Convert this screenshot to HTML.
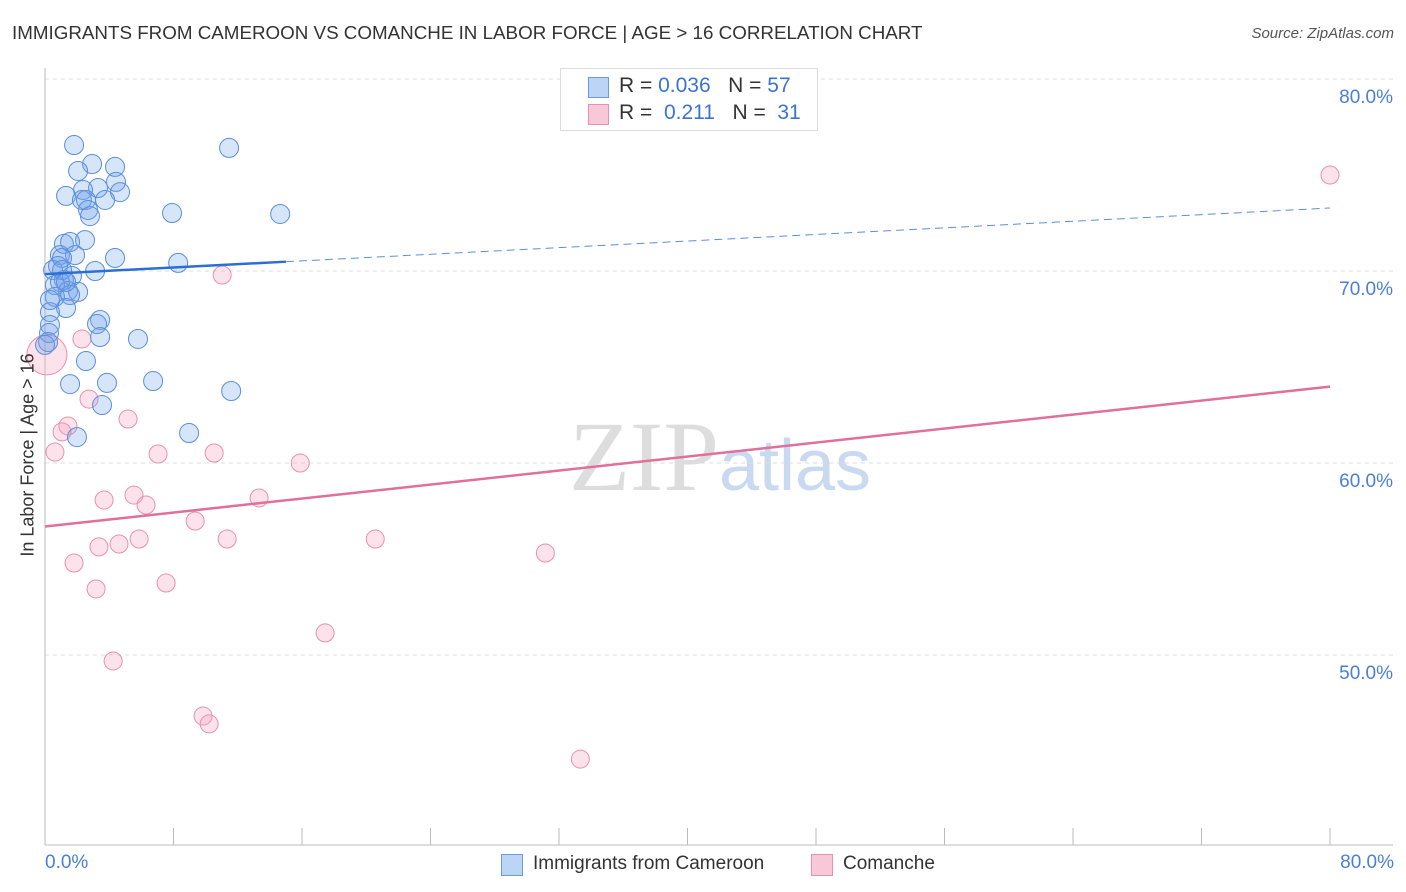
<!DOCTYPE html>
<html><head><meta charset="utf-8"><style>
body{margin:0;background:#fff;font-family:"Liberation Sans",sans-serif;}
#wrap{position:relative;width:1406px;height:892px;overflow:hidden;}
.t{position:absolute;white-space:nowrap;}
</style></head><body><div id="wrap">
<div class="t" style="left:12px;top:22px;font-size:18.8px;color:#333;">IMMIGRANTS FROM CAMEROON VS COMANCHE IN LABOR FORCE | AGE &gt; 16 CORRELATION CHART</div>
<div class="t" style="right:12px;top:25px;font-size:15px;color:#555;font-style:italic;">Source: ZipAtlas.com</div>
<svg id="svg" width="1406" height="892" style="position:absolute;left:0;top:0">
<text x="720" y="490" text-anchor="middle" font-size="100" font-family="Liberation Serif" fill="#ddd">ZIP<tspan fill="#c9d9f0" font-family="Liberation Sans" font-size="72">atlas</tspan></text>
</svg>
<div style="position:absolute;left:560px;top:68px;width:256px;height:61px;border:1px solid #ddd;background:#fff;">
<div style="position:absolute;left:27px;top:8px;width:19px;height:19px;background:#bcd4f6;border:1px solid #6a9be0;"></div>
<div class="t" style="left:58px;top:5px;font-size:21px;color:#333">R = <span style="color:#3a74d0">0.036</span> &nbsp;&nbsp;N = <span style="color:#3a74d0">57</span></div>
<div style="position:absolute;left:27px;top:35px;width:19px;height:19px;background:#f8c8d8;border:1px solid #e891ac;"></div>
<div class="t" style="left:58px;top:32px;font-size:21px;color:#333">R = &nbsp;<span style="color:#3a74d0">0.211</span> &nbsp;&nbsp;N = &nbsp;<span style="color:#3a74d0">31</span></div>
</div>
<div class="t" style="left:28px;top:455px;font-size:18px;color:#333;transform:translate(-50%,-50%) rotate(-90deg);">In Labor Force | Age &gt; 16</div>
<div class="t" style="left:45px;top:852px;font-size:19px;color:#4a7fd6;">0.0%</div>
<div class="t" style="right:12px;top:852px;font-size:19px;color:#4a7fd6;">80.0%</div>
<div style="position:absolute;left:501px;top:854px;width:20px;height:20px;background:#bcd4f6;border:1px solid #6a9be0;"></div>
<div class="t" style="left:533px;top:853px;font-size:19px;color:#333;">Immigrants from Cameroon</div>
<div style="position:absolute;left:811px;top:854px;width:20px;height:20px;background:#f8c8d8;border:1px solid #e891ac;"></div>
<div class="t" style="left:843px;top:853px;font-size:19px;color:#333;">Comanche</div>
</div>
<script>
const yTicks=[50,60,70,80];
const yTickLabels=["50.0%","60.0%","70.0%","80.0%"];
const blueX=[1.81,11.46,2.93,4.36,2.06,4.42,3.30,2.37,4.67,1.31,2.30,2.55,3.74,7.91,14.64,2.68,2.80,2.49,1.18,1.56,0.93,1.87,1.06,4.36,8.29,0.50,3.12,1.68,1.18,0.93,0.62,1.43,2.06,0.62,1.56,1.31,0.31,3.43,3.24,0.31,0.25,3.43,5.79,0.19,2.55,1.56,3.86,6.73,11.59,3.55,8.97,1.99,0.31,0,0.81,1.06,1.31];
const blueY=[76.56,76.41,75.57,75.42,75.21,74.64,74.32,74.22,74.11,73.91,73.70,73.70,73.70,73.02,72.97,73.18,72.86,71.61,71.41,71.51,70.83,70.83,70.68,70.68,70.42,70.05,70.00,69.74,69.53,69.43,69.27,68.96,68.91,68.65,68.75,68.07,67.86,67.45,67.24,67.19,66.77,66.56,66.46,66.30,65.31,64.11,64.17,64.27,63.75,63.02,61.56,61.35,68.49,66.15,70.26,70.05,69.43];
const pinkX=[80,11.03,2.30,0.12,2.74,5.17,1.43,1.06,0.62,7.04,10.53,15.89,5.54,3.68,6.29,13.33,9.35,11.34,5.86,20.56,4.61,3.36,31.15,1.81,7.54,3.18,17.44,4.24,9.84,10.22,33.33];
const pinkY=[75.0,69.79,66.46,65.63,63.33,62.29,61.93,61.62,60.57,60.47,60.52,60.0,58.33,58.07,57.81,58.18,56.98,56.04,56.04,56.04,55.78,55.63,55.31,54.79,53.75,53.44,51.15,49.69,46.82,46.41,44.58];
const blueTrend=[69.84,73.28];
const pinkTrend=[56.69,63.98];
const NS='http://www.w3.org/2000/svg';
const svg=document.getElementById('svg');
const X=v=>45+v/80*1285;
const Y=v=>79+(80-v)*19.2;
function mk(t,a){const e=document.createElementNS(NS,t);for(const k in a)e.setAttribute(k,a[k]);svg.appendChild(e);return e;}
yTicks.forEach((t,i)=>{
 const g=mk('line',{x1:45,x2:1393,y1:Y(t),y2:Y(t),stroke:'#ddd','stroke-dasharray':'4,4'});
 
 
 const tx=mk('text',{x:1393,y:Y(t)+24,'text-anchor':'end','font-size':19,fill:'#4a7fd6'});
 tx.textContent=yTickLabels[i];
 
 
});
const ax=mk('line',{x1:45,x2:45,y1:68,y2:845,stroke:'#bbb'});


const bx=mk('line',{x1:45,x2:1393,y1:845,y2:845,stroke:'#bbb'});


for(let k=0;k<=10;k++){const tk=mk('line',{x1:X(k*8),x2:X(k*8),y1:828,y2:845,stroke:'#bbb'});
 
 }
pinkX.forEach((x,i)=>{const c=mk('circle',{cx:X(x),cy:Y(pinkY[i]),r:i==3?20:9,fill:'rgba(244,160,188,0.3)',stroke:'#e891ac','stroke-width':1});
 
 });
blueX.forEach((x,i)=>{const c=mk('circle',{cx:X(x),cy:Y(blueY[i]),r:9.5,fill:'rgba(110,160,235,0.28)',stroke:'#5a8fdc','stroke-width':1});
 
 });
const bAt=x=>blueTrend[0]+(blueTrend[1]-blueTrend[0])*x/80;
const l1=mk('line',{x1:X(0),y1:Y(bAt(0)),x2:X(15),y2:Y(bAt(15)),stroke:'#2a6fd6','stroke-width':2.5});


const l2=mk('line',{x1:X(15),y1:Y(bAt(15)),x2:X(80),y2:Y(bAt(80)),stroke:'#5a8fdc','stroke-width':1,'stroke-dasharray':'8,5'});


const l3=mk('line',{x1:X(0),y1:Y(pinkTrend[0]),x2:X(80),y2:Y(pinkTrend[1]),stroke:'#e0709a','stroke-width':2.5});


</script>
</body></html>
